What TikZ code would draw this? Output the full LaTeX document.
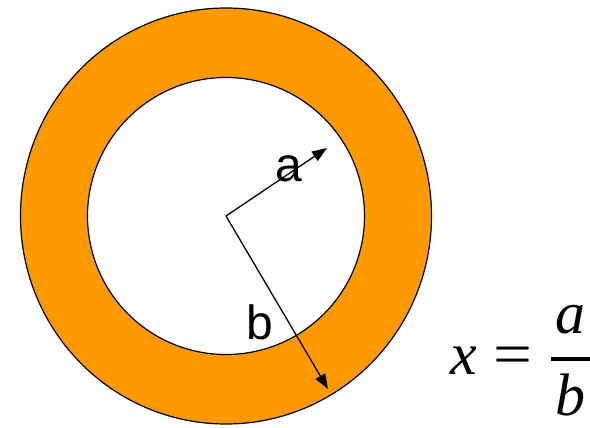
\RequirePackage{fix-cm}
\documentclass[tikz,border=0pt]{standalone}
\usepackage{amsmath}
\usepackage{fontspec}
\usepackage{xcolor}
\usepackage{tikz}
\usetikzlibrary{arrows.meta}

\newfontfamily\labelfont{Liberation Sans}
\newfontfamily\eqfont{Liberation Serif}
\definecolor{ringorange}{RGB}{255,153,0}

\begin{document}
\begin{tikzpicture}[
  x=1pt, y=-1pt,
  ring/.style={fill=ringorange, draw=black, line width=1.2pt},
  hole/.style={fill=white, draw=black, line width=1.2pt},
  radius arrow/.style={-{Triangle[length=15pt, width=11pt]}, line width=1.3pt},
  lbl/.style={font=\labelfont\fontsize{48}{52}\selectfont, inner sep=0pt},
  eq/.style={font=\eqfont\fontsize{60}{66}\selectfont, inner sep=0pt}
]
\useasboundingbox (0,0) rectangle (590,428);
\coordinate (ctr) at (226,216);
\coordinate (atip) at (327,148);
\coordinate (btip) at (328,389);
% ring
\filldraw[ring] (ctr) ellipse[x radius=205.5, y radius=208];
\filldraw[hole] (ctr) circle[radius=138.5];
% radii
\draw[radius arrow] (ctr) -- (atip);
\draw[radius arrow] (ctr) -- (btip);
\node[lbl] (a) at (289,169) {a};
\node[lbl] (b) at (259.5,322.5) {b};
% ratio
\node[eq, anchor=base east] (ratio) at (592,374)
     {$\displaystyle \mbox{\textit{x}} \mathrel{\mbox{\scalebox{1.15}[1]{=}}}
      \genfrac{}{}{3.2pt}{0}{\mbox{\hspace{5pt}\textit{a}\hspace{5pt}}}{\mbox{\textit{b}}}$};
\end{tikzpicture}
\end{document}
